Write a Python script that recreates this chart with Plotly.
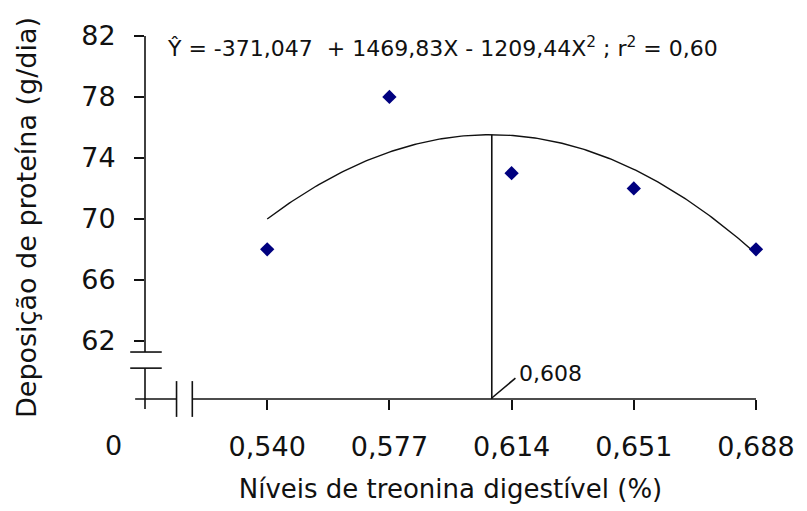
import numpy as np
import plotly.graph_objects as go

# Digestible threonine levels (%) and protein deposition (g/day)
threonine_levels = [0.540, 0.577, 0.614, 0.651, 0.688]
protein_deposition = [68, 78, 73, 72, 68]

# Quadratic regression: Y = b0 + b1*X + b2*X^2
b0, b1, b2 = -371.047, 1469.83, -1209.44
r_squared = 0.60
x_optimum = 0.608

y_ticks = [62, 66, 70, 74, 78, 82]
x_ticks = [0.540, 0.577, 0.614, 0.651, 0.688]
x_tick_text = ["0,540", "0,577", "0,614", "0,651", "0,688"]

# Axis extents (origin sits one tick step left of the first level)
X_RANGE = [0.503, 0.688]
Y_RANGE = [58.18, 82]

W, H = 807, 511
M_L, M_R, M_T, M_B = 145, 42, 36, 110
PLOT_W = W - M_L - M_R
PLOT_H = H - M_T - M_B


def fitted(x):
    return b0 + b1 * x + b2 * x ** 2


def paper_x(x, dpx=0.0):
    """Data x (plus a pixel offset) to paper coordinates."""
    return (x - X_RANGE[0]) / (X_RANGE[1] - X_RANGE[0]) + dpx / PLOT_W


def paper_y(y, dpx=0.0):
    """Data y (plus a pixel offset, positive upwards) to paper coordinates."""
    return (y - Y_RANGE[0]) / (Y_RANGE[1] - Y_RANGE[0]) + dpx / PLOT_H


FONT = "DejaVu Sans"
INK = "#111111"
LINE_W = 1.6
TICK_LEN = 10

x_curve = np.linspace(threonine_levels[0], threonine_levels[-1], 200)
y_curve = fitted(x_curve)

fig = go.Figure()
fig.add_trace(go.Scatter(x=x_curve, y=y_curve, mode="lines",
                         line=dict(color=INK, width=1.4), hoverinfo="skip"))
fig.add_trace(go.Scatter(x=threonine_levels, y=protein_deposition, mode="markers",
                         marker=dict(symbol="diamond", size=11, color="#00007f"),
                         cliponaxis=False))

x0, y0 = X_RANGE[0], Y_RANGE[0]
brk_hi = paper_y(62, -11.3)
brk_lo = paper_y(62, -27.5)


def seg(xa, ya, xb, yb):
    return dict(type="line", xref="paper", yref="paper", x0=xa, y0=ya, x1=xb, y1=yb,
                line=dict(color=INK, width=LINE_W), layer="above")


shapes = [
    # broken y axis (lower piece runs past the x axis as the origin tick)
    seg(0, brk_hi, 0, 1),
    seg(paper_x(x0, -15), brk_hi, paper_x(x0, 17), brk_hi),
    seg(paper_x(x0, -15), brk_lo, paper_x(x0, 17), brk_lo),
    seg(0, paper_y(y0, -TICK_LEN), 0, brk_lo),
    # broken x axis
    seg(paper_x(x0, -10), 0, paper_x(x0, 32), 0),
    seg(paper_x(x0, 32), paper_y(y0, -18), paper_x(x0, 32), paper_y(y0, 18)),
    seg(paper_x(x0, 48), paper_y(y0, -18), paper_x(x0, 48), paper_y(y0, 18)),
    seg(paper_x(x0, 48), 0, 1, 0),
    # optimum level marker
    seg(paper_x(x_optimum), 0, paper_x(x_optimum), paper_y(fitted(x_optimum))),
    seg(paper_x(x_optimum), paper_y(y0, 1), paper_x(x_optimum, 24), paper_y(y0, 21)),
]

annotations = [
    dict(x=paper_x(x0, 20), y=paper_y(Y_RANGE[1], -11), xref="paper", yref="paper",
         xanchor="left", yanchor="middle", showarrow=False,
         text=f"Ŷ = {b0:.3f}  + {b1:.2f}X - {abs(b2):.2f}X<sup>2</sup> ; "
              f"r<sup>2</sup> = {r_squared:.2f}".replace(".", ","),
         font=dict(family=FONT, size=22, color=INK)),
    dict(x=paper_x(x_optimum, 26), y=paper_y(y0, 26), xref="paper", yref="paper",
         xanchor="left", yanchor="middle", showarrow=False,
         text=f"{x_optimum:.3f}".replace(".", ","),
         font=dict(family=FONT, size=22, color=INK)),
    dict(x=paper_x(x0, -32), y=paper_y(y0, -47), xref="paper", yref="paper",
         xanchor="center", yanchor="middle", showarrow=False, text="0",
         font=dict(family=FONT, size=27, color=INK)),
]

fig.update_layout(
    width=W, height=H,
    margin=dict(l=M_L, r=M_R, t=M_T, b=M_B, pad=0),
    paper_bgcolor="white", plot_bgcolor="white",
    showlegend=False,
    shapes=shapes, annotations=annotations,
    xaxis=dict(range=X_RANGE, showgrid=False, zeroline=False, showline=False,
               tickvals=x_ticks, ticktext=x_tick_text,
               ticks="outside", ticklen=TICK_LEN, tickwidth=LINE_W, tickcolor=INK,
               ticklabelstandoff=14,
               tickfont=dict(family=FONT, size=27, color=INK),
               title=dict(text="Níveis de treonina digestível (%)",
                          font=dict(family=FONT, size=26, color=INK), standoff=18)),
    yaxis=dict(range=Y_RANGE, showgrid=False, zeroline=False, showline=False,
               tickvals=y_ticks, ticktext=[str(v) for v in y_ticks],
               ticks="outside", ticklen=TICK_LEN, tickwidth=LINE_W, tickcolor=INK,
               ticklabelstandoff=13,
               tickfont=dict(family=FONT, size=27, color=INK),
               title=dict(text="Deposição de proteína (g/dia)",
                          font=dict(family=FONT, size=27, color=INK), standoff=36)),
)

fig.write_html("out.html")
